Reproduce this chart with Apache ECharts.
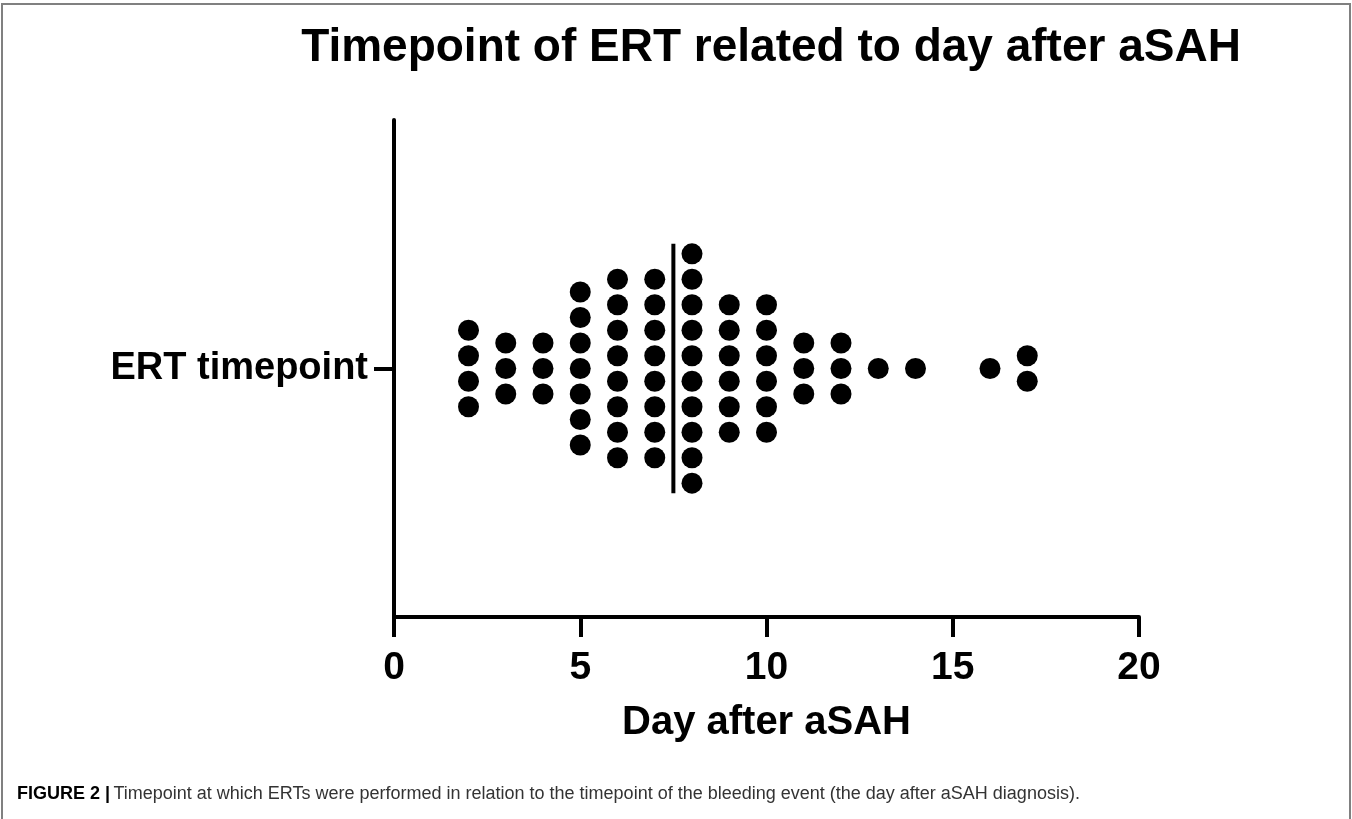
<!DOCTYPE html>
<html>
<head>
<meta charset="utf-8">
<script src="https://cdn.jsdelivr.net/npm/echarts@6/dist/echarts.min.js"></script>
<style>
  html, body { margin: 0; padding: 0; background: #fff; }
  #chart { width: 1352px; height: 819px; }
</style>
</head>
<body>
<div id="chart"></div>
<script>
// ---- data ----
const titleText = 'Timepoint of ERT related to day after aSAH';
const xAxisName = 'Day after aSAH';
const yCategories = ['ERT timepoint'];
const days = [2, 3, 4, 5, 6, 7, 8, 9, 10, 11, 12, 13, 14, 16, 17];
const counts = [4, 3, 3, 7, 8, 8, 10, 6, 6, 3, 3, 1, 1, 1, 2];
const xTicks = [0, 5, 10, 15, 20];
const captionBold = 'FIGURE 2 |';
const captionText = 'Timepoint at which ERTs were performed in relation to the timepoint of the bleeding event (the day after aSAH diagnosis).';

// ---- build dot positions (stacked, centred on the category) ----
const dots = [];
const allValues = [];
days.forEach((d, i) => {
  const n = counts[i];
  for (let k = 0; k < n; k++) {
    dots.push([d, (n - 1) / 2 - k]);
    allValues.push(d);
  }
});
allValues.sort((a, b) => a - b);
const m = allValues.length;
const median = m % 2 ? allValues[(m - 1) / 2] : (allValues[m / 2 - 1] + allValues[m / 2]) / 2;
const maxCount = Math.max(...counts);
const half = (maxCount - 1) / 2 + 0.39;

const FONT = "'Liberation Sans', Arial, Helvetica, sans-serif";
const chart = echarts.init(document.getElementById('chart'), null, { renderer: 'canvas' });
chart.setOption({
  backgroundColor: '#fff',
  animation: false,
  title: {
    text: titleText, left: 766, textAlign: 'center', top: 20,
    textStyle: { fontFamily: FONT, fontWeight: 'bold', fontSize: 46, color: '#000' }
  },
  grid: { left: 394, right: 213, top: 120, bottom: 202, containLabel: false },
  xAxis: {
    type: 'value', min: xTicks[0], max: xTicks[xTicks.length - 1], interval: 5,
    name: xAxisName, nameLocation: 'middle', nameGap: 86,
    nameTextStyle: { fontFamily: FONT, fontWeight: 'bold', fontSize: 40, color: '#000' },
    axisLine: { show: true, onZero: false, lineStyle: { color: '#000', width: 4 } },
    axisTick: { show: true, length: 20, lineStyle: { color: '#000', width: 4 } },
    axisLabel: { margin: 32, fontFamily: FONT, fontWeight: 'bold', fontSize: 39, color: '#000' },
    splitLine: { show: false }
  },
  yAxis: [
    {
      type: 'category', data: yCategories, boundaryGap: true,
      axisLine: { show: true, onZero: false, lineStyle: { color: '#000', width: 4 } },
      axisTick: { show: true, alignWithLabel: true, length: 20, lineStyle: { color: '#000', width: 4 } },
      axisLabel: { margin: 26, fontFamily: FONT, fontWeight: 'bold', fontSize: 38, color: '#000' },
      splitLine: { show: false }
    },
    {
      type: 'value', show: false, min: -9.75, max: 9.75,
      splitLine: { show: false }
    }
  ],
  series: [
    {
      type: 'scatter', yAxisIndex: 1, data: dots,
      symbol: 'circle', symbolSize: 21,
      itemStyle: { color: '#000', opacity: 1 }, z: 3
    },
    {
      type: 'line', yAxisIndex: 1,
      data: [[median, -half], [median, half]],
      symbol: 'none', lineStyle: { color: '#000', width: 4 }, z: 2
    }
  ],
  graphic: [
    {
      type: 'rect', shape: { x: 2, y: 4, width: 1348, height: 830 },
      style: { fill: 'none', stroke: '#808080', lineWidth: 2 }, silent: true, z: -1
    },
    {
      type: 'text', left: 17, top: 785,
      style: {
        text: '{b|' + captionBold + '} {r|' + captionText + '}',
        rich: {
          b: { font: 'bold 18px ' + FONT, fill: '#000' },
          r: { font: '18px ' + FONT, fill: '#333' }
        }
      }
    }
  ]
});
</script>
</body>
</html>
